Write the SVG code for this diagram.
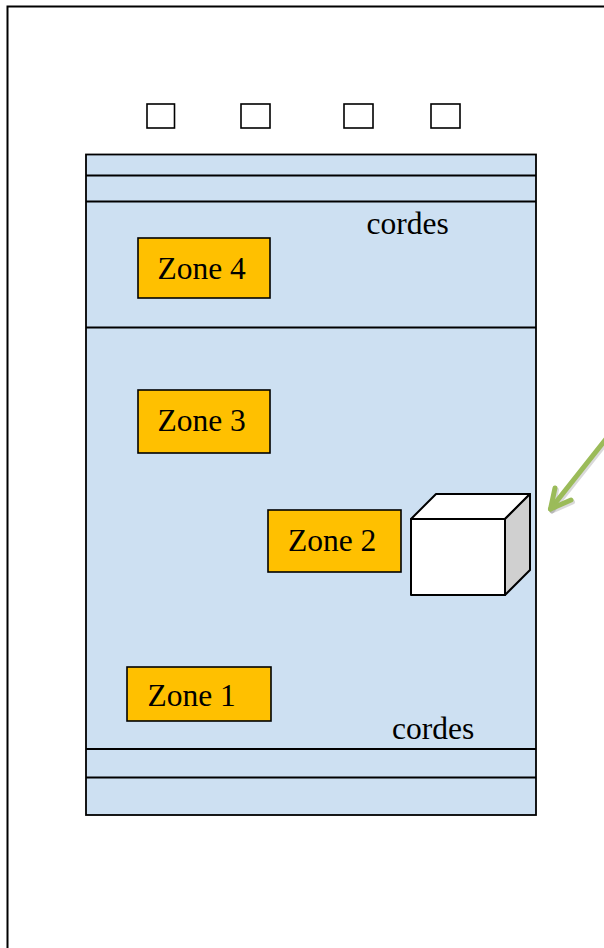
<svg xmlns="http://www.w3.org/2000/svg" width="604" height="948" viewBox="0 0 604 948">
<defs>
<style>
.frame{fill:none;stroke:#000;stroke-width:2}
.sq{fill:#fff;stroke:#000;stroke-width:1.6}
.band{fill:#cde0f2;stroke:#000;stroke-width:1.8}
.div{stroke:#000;stroke-width:1.8;fill:none}
.zone{fill:#ffc000;stroke:#000;stroke-width:1.6}
.t{font-family:"Liberation Serif","Times New Roman",serif;font-size:31.5px;fill:#000}
.cube{stroke:#000;stroke-width:2;stroke-linejoin:round}
.arr{fill:none;stroke:#9bbb59;stroke-width:5;stroke-linecap:round;stroke-linejoin:round}
.arrs{fill:none;stroke:#000;stroke-opacity:0.15;stroke-width:5;stroke-linecap:round;stroke-linejoin:round}
</style>
</defs>
<path class="frame" d="M7.5,948 V6.5 H604"/>
<g id="squares">
<rect class="sq" x="147" y="104" width="27.5" height="24"/>
<rect class="sq" x="241" y="104" width="29" height="24"/>
<rect class="sq" x="344" y="104" width="29" height="24"/>
<rect class="sq" x="431" y="104" width="29" height="24"/>
</g>
<g id="structure">
<rect class="band" x="86" y="154.5" width="450" height="660.5"/>
<line class="div" x1="86" y1="175.5" x2="536" y2="175.5"/>
<line class="div" x1="86" y1="201.5" x2="536" y2="201.5"/>
<line class="div" x1="86" y1="327.5" x2="536" y2="327.5"/>
<line class="div" x1="86" y1="749" x2="536" y2="749"/>
<line class="div" x1="86" y1="777.5" x2="536" y2="777.5"/>
</g>
<g id="cordes-top"><text class="t" x="366.5" y="233.5">cordes</text></g>
<g id="cordes-bottom"><text class="t" x="392" y="739">cordes</text></g>
<g id="zone4"><rect class="zone" x="138" y="238" width="132" height="60"/><text class="t" x="157.5" y="278.5">Zone 4</text></g>
<g id="zone3"><rect class="zone" x="138" y="390" width="132" height="63"/><text class="t" x="157.5" y="431">Zone 3</text></g>
<g id="zone2"><rect class="zone" x="268" y="510" width="133" height="62"/><text class="t" x="288" y="551">Zone 2</text></g>
<g id="zone1"><rect class="zone" x="127" y="667" width="144" height="54"/><text class="t" x="147.5" y="706">Zone 1</text></g>
<g id="cube">
<polygon class="cube" fill="#fff" points="411,519 436,494 530,494 505,519"/>
<polygon class="cube" fill="#d0d0d0" points="505,519 530,494 530,570 505,595"/>
<rect class="cube" fill="#fff" x="411" y="519" width="94" height="76"/>
</g>
<g id="connectors">
<g transform="translate(1.5,2)">
<path class="arrs" d="M606,439 L550.5,509"/>
<path class="arrs" d="M555,488 L550.5,509 L571,500"/>
</g>
<path class="arr" d="M606,439 L550.5,509"/>
<path class="arr" d="M555,488 L550.5,509 L571,500"/>
</g>
</svg>
